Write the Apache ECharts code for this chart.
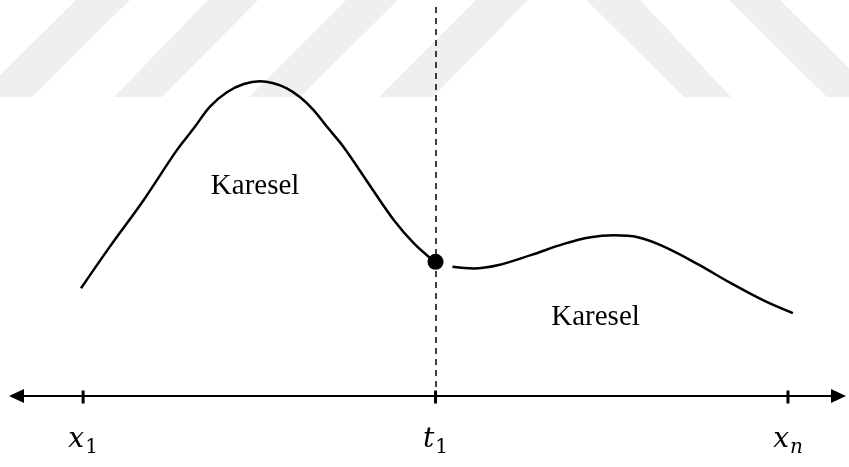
<!DOCTYPE html>
<html>
<head>
<meta charset="utf-8">
<title>Karesel spline</title>
<script src="https://cdn.jsdelivr.net/npm/echarts/dist/echarts.min.js"></script>
<style>
  html, body { margin: 0; padding: 0; background: #fff; }
  #main { width: 849px; height: 467px; }
</style>
</head>
<body>
<div id="main"></div>
<script>
// düğüm noktaları (x ekseni değerleri) ve etiketleri
var tickValues = [0, 5, 10];
var tickMain = ['x', 't', 'x'];
var tickSub = ['1', '1', 'n'];

// birinci parça: x1 -> t1
var leftX = [-0.03, 0.38, 0.86, 1.33, 1.57, 1.80, 2.04, 2.28, 2.51, 2.70, 2.89, 3.08, 3.27, 3.46, 3.70, 4.08, 4.41, 4.69, 4.93, 5.0];
var leftY = [27.7, 38.4, 50.4, 63.2, 68.8, 74.4, 78.1, 80.2, 80.9, 80.4, 79.1, 76.8, 73.5, 69.2, 63.9, 53.8, 45.2, 39.3, 35.4, 34.5];

// ikinci parça: t1 -> xn
var rightX = [5.24, 5.54, 5.88, 6.35, 6.82, 7.20, 7.53, 7.87, 8.24, 8.72, 9.19, 9.66, 10.07];
var rightY = [33.2, 32.8, 33.6, 36.2, 39.1, 40.8, 41.3, 40.8, 38.4, 33.9, 29.0, 24.5, 21.3];

// düğüm noktası
var knot = [5, 34.5];

// bölge etiketleri
var regionNames = ['Karesel', 'Karesel'];
var regionX = [2.44, 7.27];
var regionY = [54, 20.3];

function zip(xs, ys) {
    var out = [];
    for (var i = 0; i < xs.length; i++) out.push([xs[i], ys[i]]);
    return out;
}

var myChart = echarts.init(document.getElementById('main'));

// arka plandaki soluk çapraz şeritler
var stripes = [
    [[76, 0], [130, 0], [32, 97], [-22, 97]],
    [[208, 0], [258, 0], [162, 97], [114, 97]],
    [[346, 0], [398, 0], [300, 97], [249, 97]],
    [[476, 0], [528, 0], [433, 97], [379, 97]],
    [[586, 0], [640, 0], [731, 97], [684, 97]],
    [[729, 0], [780, 0], [878, 97], [827, 97]]
];

var option = {
    animation: false,
    backgroundColor: '#fff',
    graphic: stripes.map(function (pts) {
        return {
            type: 'polygon',
            z: -10,
            silent: true,
            shape: { points: pts },
            style: { fill: '#efefef' }
        };
    }),
    grid: { left: 16.5, right: 10.5, top: 7, bottom: 71 },
    xAxis: {
        type: 'value',
        min: -0.945,
        max: 10.717,
        axisLine: {
            onZero: false,
            symbol: ['triangle', 'triangle'],
            symbolSize: [14, 15],
            lineStyle: { color: '#000', width: 2 }
        },
        axisTick: { show: false },
        splitLine: { show: false },
        axisLabel: {
            customValues: tickValues,
            margin: 30,
            formatter: function (v) {
                var i = tickValues.indexOf(v);
                if (i < 0) return '';
                var sub = /[a-z]/.test(tickSub[i]) ? 'si' : 's';
                return '{v|' + tickMain[i] + '}{' + sub + '|' + tickSub[i] + '}';
            },
            rich: {
                v: { fontFamily: 'DejaVu Serif', fontStyle: 'italic', fontSize: 28, lineHeight: 28, verticalAlign: 'top', color: '#000' },
                s: { fontFamily: 'DejaVu Serif', fontSize: 20, lineHeight: 20, verticalAlign: 'top', padding: [12, 0, 0, 1], color: '#000' },
                si: { fontFamily: 'DejaVu Serif', fontStyle: 'italic', fontSize: 20, lineHeight: 20, verticalAlign: 'top', padding: [12, 0, 0, 1], color: '#000' }
            }
        }
    },
    yAxis: {
        type: 'value',
        min: 0,
        max: 100,
        show: false
    },
    series: [
        {
            name: 'sol',
            type: 'line',
            smooth: 0.35,
            symbol: 'none',
            lineStyle: { color: '#000', width: 2.5 },
            data: zip(leftX, leftY)
        },
        {
            name: 'sag',
            type: 'line',
            smooth: 0.35,
            symbol: 'none',
            lineStyle: { color: '#000', width: 2.5 },
            data: zip(rightX, rightY)
        },
        {
            // eksen üzerindeki çentikler ve t1 kesikli çizgisi
            name: 'cetik',
            type: 'scatter',
            clip: false,
            symbol: 'rect',
            symbolSize: [3, 13],
            symbolOffset: [0, 1],
            itemStyle: { color: '#000', opacity: 1 },
            data: tickValues.map(function (v) { return [v, 0]; }),
            markLine: {
                silent: true,
                symbol: 'none',
                label: { show: false },
                lineStyle: { color: '#000', width: 1.5, type: [6, 5], opacity: 1 },
                data: [[{ coord: [tickValues[1], 100] }, { coord: [tickValues[1], 2] }]]
            }
        },
        {
            name: 'dugum',
            type: 'scatter',
            symbolSize: 16,
            itemStyle: { color: '#000', opacity: 1 },
            z: 5,
            data: [knot]
        },
        {
            name: 'etiket',
            type: 'scatter',
            symbolSize: 0,
            itemStyle: { opacity: 1 },
            label: {
                show: true,
                position: 'inside',
                formatter: '{b}',
                fontFamily: 'Liberation Serif',
                fontSize: 29,
                color: '#000'
            },
            data: regionNames.map(function (n, i) {
                return { name: n, value: [regionX[i], regionY[i]] };
            })
        }
    ]
};

myChart.setOption(option);
</script>
</body>
</html>
